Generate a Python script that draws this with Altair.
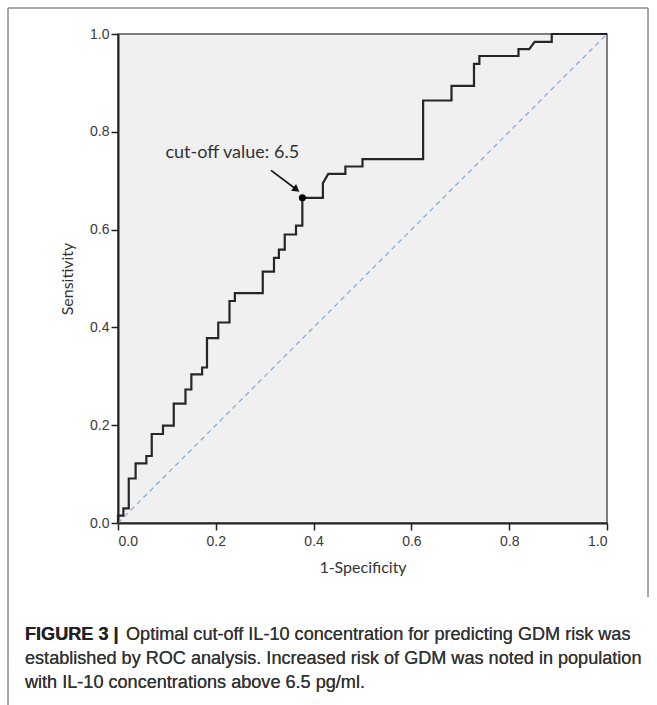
import altair as alt
import pandas as pd

# ROC curve vertices (1-Specificity, Sensitivity)
fpr = [0.000, 0.000, 0.011, 0.011, 0.022, 0.022, 0.036, 0.036, 0.058, 0.058,
       0.069, 0.069, 0.092, 0.092, 0.114, 0.114, 0.138, 0.138, 0.150, 0.150,
       0.172, 0.172, 0.182, 0.182, 0.205, 0.205, 0.228, 0.228, 0.239, 0.239,
       0.296, 0.296, 0.319, 0.319, 0.329, 0.329, 0.341, 0.341, 0.364, 0.364,
       0.377, 0.377, 0.419, 0.419, 0.430, 0.465, 0.465, 0.500, 0.500, 0.624,
       0.624, 0.682, 0.682, 0.728, 0.728, 0.739, 0.739, 0.819, 0.819, 0.841,
       0.852, 0.887, 0.887, 1.000]
tpr = [0.000, 0.015, 0.015, 0.030, 0.030, 0.091, 0.091, 0.122, 0.122, 0.137,
       0.137, 0.182, 0.182, 0.199, 0.199, 0.244, 0.244, 0.273, 0.273, 0.304,
       0.304, 0.318, 0.318, 0.378, 0.378, 0.410, 0.410, 0.454, 0.454, 0.470,
       0.470, 0.514, 0.514, 0.542, 0.542, 0.559, 0.559, 0.590, 0.590, 0.608,
       0.608, 0.665, 0.665, 0.695, 0.714, 0.714, 0.729, 0.729, 0.744, 0.744,
       0.864, 0.864, 0.894, 0.894, 0.939, 0.939, 0.955, 0.955, 0.969, 0.969,
       0.984, 0.984, 1.000, 1.000]

diag_x = [0.0, 1.0]
diag_y = [0.0, 1.0]

cutoff_x = [0.377]
cutoff_y = [0.665]
cutoff_label = ["cut-off value: 6.5"]
arrow_x = [0.313, 0.365]
arrow_y = [0.721, 0.682]

ticks = [0.0, 0.2, 0.4, 0.6, 0.8, 1.0]

caption_bold = "FIGURE 3 |"
caption_lines = [
    "Optimal cut-off IL-10 concentration for predicting GDM risk was",
    "established by ROC analysis. Increased risk of GDM was noted in population",
    "with IL-10 concentrations above 6.5 pg/ml.",
]

roc = pd.DataFrame({"x": fpr, "y": tpr, "i": list(range(len(fpr)))})
diag = pd.DataFrame({"x": diag_x, "y": diag_y})
cut = pd.DataFrame({"x": cutoff_x, "y": cutoff_y})
lab = pd.DataFrame({"x": [0.097], "y": [0.757], "t": cutoff_label})
arr = pd.DataFrame({"x": arrow_x, "y": arrow_y, "i": [0, 1]})
head = pd.DataFrame({"x": [arrow_x[1]], "y": [arrow_y[1]]})

xs = alt.Scale(domain=[0, 1], nice=False, zero=False)
ys = alt.Scale(domain=[0, 1], nice=False, zero=False)

AX = dict(values=ticks, format=".1f", grid=False, domainColor="#222", domainWidth=2,
          tickColor="#222", tickSize=7, tickWidth=1.5, labelColor="#3a3a3a",
          labelFont="Liberation Sans", labelFontSize=14,
          titleFont="Lato", titleFontSize=16, titleFontWeight="normal", titleColor="#333")

xenc = alt.X("x:Q", scale=xs, axis=alt.Axis(title="1-Specificity", titlePadding=11,
                                             labelPadding=4, **AX))
yenc = alt.Y("y:Q", scale=ys, axis=alt.Axis(title="Sensitivity", titlePadding=14,
                                             labelPadding=2, **AX))

diag_layer = alt.Chart(diag).mark_line(color="#86acd6", strokeDash=[5, 4], strokeWidth=1.3).encode(
    x=xenc, y=yenc)
roc_layer = alt.Chart(roc).mark_line(color="#262626", strokeWidth=2.2, interpolate="linear").encode(
    x="x:Q", y="y:Q", order="i:Q")
dot = alt.Chart(cut).mark_point(filled=True, color="black", size=50, opacity=1).encode(x="x:Q", y="y:Q")
label = alt.Chart(lab).mark_text(align="left", baseline="middle", font="Lato", fontSize=18,
                                 color="#333").encode(x="x:Q", y="y:Q", text="t:N")
arrow = alt.Chart(arr).mark_line(color="#111", strokeWidth=1.6).encode(x="x:Q", y="y:Q", order="i:Q")
arrowhead = alt.Chart(head).mark_point(shape="triangle-right", filled=True, color="#111", size=70,
                                       angle=37, opacity=1).encode(x="x:Q", y="y:Q")

# figure frame and caption (decoration outside the plot area, in pixels)
FR = "#8a8a8a"
frame_top = alt.Chart(diag).mark_rule(color=FR, strokeWidth=1).encode(
    x=alt.value(-110), x2=alt.value(530), y=alt.value(-26))
frame_left = alt.Chart(diag).mark_rule(color=FR, strokeWidth=1).encode(
    x=alt.value(-110), y=alt.value(-26), y2=alt.value(671))
frame_right = alt.Chart(diag).mark_rule(color=FR, strokeWidth=1).encode(
    x=alt.value(530), y=alt.value(-26), y2=alt.value(563))

cap_font = "Liberation Sans"
cap_size = 18.1
bold = alt.Chart(diag).mark_text(align="left", baseline="middle", font=cap_font, fontSize=cap_size,
                                 fontWeight="bold", color="#222", text=caption_bold).encode(
    x=alt.value(-93), y=alt.value(601))
cap1 = alt.Chart(diag).mark_text(align="left", baseline="middle", font=cap_font, fontSize=cap_size,
                                 color="#333", text=caption_lines[0]).encode(
    x=alt.value(8), y=alt.value(601))
cap2 = alt.Chart(diag).mark_text(align="left", baseline="middle", font=cap_font, fontSize=cap_size,
                                 color="#333", text=caption_lines[1]).encode(
    x=alt.value(-93), y=alt.value(625))
cap3 = alt.Chart(diag).mark_text(align="left", baseline="middle", font=cap_font, fontSize=cap_size,
                                 color="#333", text=caption_lines[2]).encode(
    x=alt.value(-93), y=alt.value(649))

chart = alt.layer(
    diag_layer, roc_layer, arrow, arrowhead, dot, label,
    frame_top, frame_left, frame_right, bold, cap1, cap2, cap3,
).properties(
    width=489, height=489,
    padding={"left": 118, "top": 34, "right": 50, "bottom": 182},
    autosize=alt.AutoSizeParams(type="none"),
    background="white",
).configure_view(
    fill="#f0f0f0", stroke="#555", strokeWidth=1.5
)

chart.save("out.html", embed_options={"renderer": "svg", "actions": False})
